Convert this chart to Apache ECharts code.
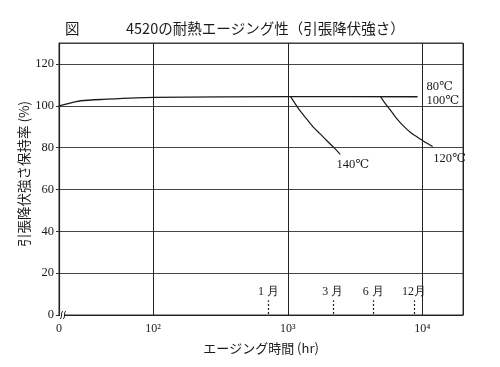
<!DOCTYPE html>
<html><head><meta charset="utf-8">
<script src="https://cdn.jsdelivr.net/npm/echarts@6/dist/echarts.min.js"></script>
<style>html,body{margin:0;padding:0;background:#fff}#c{width:500px;height:367px}</style>
</head><body><div id="c"></div>
<script>
// Data (x in hours on a log axis; 20 h = the "0" start of the broken axis)
const flatHours  = [20, 25, 29, 41, 100, 1000, 9190];      // 80℃ / 100℃
const flatValues = [100, 101.5, 102.4, 103.0, 104.0, 104.4, 104.3];
const c140Hours  = [1050, 1127, 1227, 1376, 1539, 1725, 1936, 2229, 2450];
const c140Values = [104.4, 101.3, 97.8, 93.8, 89.9, 86.8, 83.5, 79.6, 76.8];
const c120Hours  = [4890, 5232, 5700, 6380, 7145, 8240, 9500, 10640, 11910];
const c120Values = [104.4, 101.5, 98.4, 94.2, 90.6, 87.0, 84.4, 82.3, 80.5];
const monthHours  = [720, 2160, 4320, 8640];
const monthLabels = ['1 月', '3 月', '6 月', '12月'];
const yTicks = [0, 20, 40, 60, 80, 100, 120];
const xTickLabels = {20: '0', 100: '10²', 1000: '10³', 10000: '10⁴'};
const curveLabels = ['80℃', '100℃', '140℃', '120℃'];

const zip = (a, b) => a.map((v, i) => [v, b[i]]);
const serif = '"Liberation Serif", "DejaVu Serif", serif';
const sans = '"Noto Sans CJK JP", sans-serif';
const ink = '#1a1a1a';

const chart = echarts.init(document.getElementById('c'), null, {renderer: 'canvas'});
chart.setOption({
  animation: false,
  backgroundColor: '#fff',
  title: [
    {text: '図', left: 60, top: 16, textStyle: {fontFamily: sans, fontSize: 14.5, fontWeight: 'normal', color: ink}},
    {text: '4520の耐熱エージング性（引張降伏強さ）', left: 121, top: 16, textStyle: {fontFamily: sans, fontSize: 14.5, fontWeight: 'normal', color: ink}}
  ],
  grid: {left: 59, right: 37, top: 43, bottom: 52, show: true, borderColor: '#333', borderWidth: 1},
  xAxis: {
    type: 'log', logBase: 10, min: 20, max: 20000,
    name: 'エージング時間 (hr)', nameLocation: 'middle', nameGap: 27, nameMoveOverlap: false,
    nameTextStyle: {fontFamily: sans, fontSize: 13, color: ink},
    axisLine: {show: true, lineStyle: {color: '#222', width: 1.2}},
    axisTick: {show: false},
    splitLine: {show: true, lineStyle: {color: '#222', width: 1}},
    axisLabel: {
      margin: 8, fontFamily: serif, fontSize: 12, color: ink,
      showMinLabel: true, showMaxLabel: false,
      formatter: v => {
        for (const k in xTickLabels) { if (Math.abs(v - Number(k)) < 1e-6 * Number(k)) return xTickLabels[k]; }
        return '';
      }
    }
  },
  yAxis: {
    type: 'value', min: 0, max: 130, interval: 20,
    name: '引張降伏強さ保持率 (%)', nameLocation: 'middle', nameGap: 28, nameRotate: 90, nameMoveOverlap: false,
    nameTextStyle: {fontFamily: sans, fontSize: 13.5, color: ink, padding: [0, 0, 0, 10]},
    axisLine: {show: true, lineStyle: {color: '#222', width: 1.2}},
    axisTick: {show: true, length: 3, lineStyle: {color: '#333'}},
    splitLine: {show: true, lineStyle: {color: '#444', width: 1}},
    axisLabel: {
      margin: 5, fontFamily: serif, fontSize: 12.5, color: ink, showMaxLabel: false,
      formatter: v => (yTicks.indexOf(v) >= 0 ? String(v) : '')
    }
  },
  series: [
    {
      type: 'line', data: zip(flatHours, flatValues), smooth: 0.25,
      symbol: 'none', lineStyle: {color: ink, width: 1.3},
      markPoint: {
        symbol: 'circle', symbolSize: 0,
        label: {show: true, position: 'right', distance: 0, formatter: '{b}', fontFamily: serif, fontSize: 12.5, color: ink},
        data: [
          {name: curveLabels[0], coord: [10700, 109.3]},
          {name: curveLabels[1], coord: [10700, 102.6]}
        ]
      }
    },
    {
      type: 'line', data: zip(c140Hours, c140Values), smooth: 0.2,
      symbol: 'none', lineStyle: {color: ink, width: 1.2},
      markPoint: {
        symbol: 'circle', symbolSize: 0,
        label: {show: true, position: 'right', distance: 0, formatter: '{b}', fontFamily: serif, fontSize: 12.5, color: ink},
        data: [{name: curveLabels[2], coord: [2300, 71.8]}]
      }
    },
    {
      type: 'line', data: zip(c120Hours, c120Values), smooth: 0.2,
      symbol: 'none', lineStyle: {color: ink, width: 1.2},
      markPoint: {
        symbol: 'circle', symbolSize: 0,
        label: {show: true, position: 'right', distance: 0, formatter: '{b}', fontFamily: serif, fontSize: 12.5, color: ink},
        data: [{name: curveLabels[3], coord: [12050, 74.5]}]
      }
    },
    {
      type: 'line', data: [], symbol: 'none',
      markLine: {
        silent: true, symbol: ['none', 'none'],
        lineStyle: {color: ink, type: [2, 2], width: 1.2},
        label: {show: true, position: 'end', distance: 3, formatter: '{b}', fontFamily: serif, fontSize: 12, color: ink},
        data: monthHours.map((h, i) => [{coord: [h, 0.5], name: monthLabels[i]}, {coord: [h, 7]}])
      }
    }
  ],
  graphic: [
    {type: 'rect', shape: {x: 60, y: 312, width: 5, height: 6}, style: {fill: '#fff'}, z: 100},
    {type: 'bezierCurve', shape: {x1: 60, y1: 319, x2: 63, y2: 311, cpx1: 63, cpy1: 317, cpx2: 60, cpy2: 313}, style: {stroke: ink, lineWidth: 1, fill: null}, z: 101},
    {type: 'bezierCurve', shape: {x1: 63, y1: 319, x2: 66, y2: 311, cpx1: 66, cpy1: 317, cpx2: 63, cpy2: 313}, style: {stroke: ink, lineWidth: 1, fill: null}, z: 101}
  ]
});
</script></body></html>
